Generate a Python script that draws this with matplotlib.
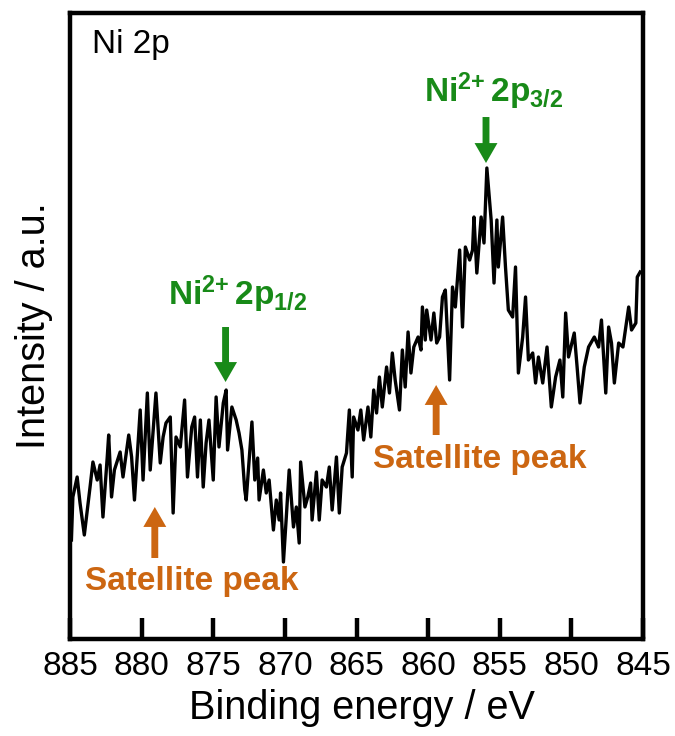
import numpy as np
import matplotlib
matplotlib.use('Agg')
import matplotlib.pyplot as plt

plt.rcParams['font.family'] = ['Liberation Sans', 'DejaVu Sans']
plt.rcParams['mathtext.fontset'] = 'custom'
plt.rcParams['mathtext.rm'] = 'Liberation Sans'
plt.rcParams['mathtext.bf'] = 'Liberation Sans:bold'

# Ni 2p XPS spectrum (binding energy in eV, intensity in a.u.)
binding_energy = [
    884.9, 884.8, 884.5, 884.3, 884.0, 883.6, 883.4, 883.1, 882.9, 882.7,
    882.4, 882.3, 882.1, 881.9, 881.5, 881.3, 880.9, 880.7, 880.5, 880.1,
    879.9, 879.6, 879.4, 879.0, 878.7, 878.5, 878.3, 878.0, 877.8, 877.6,
    877.3, 877.0, 876.8, 876.5, 876.3, 876.1, 875.9, 875.7, 875.5, 875.3,
    875.0, 874.8, 874.6, 874.3, 874.1, 874.0, 873.7, 873.4, 873.2, 873.0,
    872.8, 872.7, 872.3, 872.1, 871.9, 871.8, 871.5, 871.3, 871.1, 870.8,
    870.6, 870.4, 870.3, 870.1, 869.9, 869.7, 869.4, 869.2, 869.0, 868.9,
    868.6, 868.4, 868.2, 868.1, 867.8, 867.6, 867.4, 867.1, 866.9, 866.7,
    866.4, 866.2, 866.0, 865.7, 865.5, 865.3, 865.2, 864.9, 864.7, 864.5,
    864.2, 864.0, 863.8, 863.6, 863.4, 863.2, 862.9, 862.7, 862.5, 862.3,
    862.0, 861.8, 861.6, 861.4, 861.2, 861.0, 860.7, 860.5, 860.4, 860.2,
    860.1, 859.8, 859.6, 859.4, 859.2, 859.0, 858.8, 858.5, 858.3, 858.1,
    857.8, 857.6, 857.4, 857.1, 856.9, 856.8, 856.6, 856.3, 856.1, 855.9,
    855.6, 855.4, 855.2, 855.1, 854.8, 854.6, 854.4, 854.1, 853.9, 853.7,
    853.4, 853.2, 853.0, 852.7, 852.5, 852.3, 852.0, 851.7, 851.4, 851.1,
    850.8, 850.6, 850.4, 850.2, 849.8, 849.6, 849.4, 849.1, 848.8, 848.4,
    848.1, 847.9, 847.6, 847.4, 847.2, 847.0, 846.7, 846.4, 846.0, 845.8,
    845.5, 845.4, 845.2,
]
intensity = [
    99, 142, 162, 136, 104, 152, 177, 159, 174, 122,
    182, 204, 142, 169, 187, 162, 204, 182, 139, 229,
    159, 246, 169, 246, 176, 202, 216, 222, 126, 202,
    192, 239, 162, 212, 222, 162, 219, 152, 196, 219,
    159, 242, 192, 236, 249, 189, 232, 219, 206, 189,
    149, 139, 217, 159, 181, 139, 169, 146, 159, 109,
    139, 119, 146, 77, 122, 169, 112, 132, 96, 177,
    132, 142, 156, 119, 167, 119, 159, 152, 172, 129,
    182, 126, 172, 186, 229, 162, 222, 209, 229, 199,
    232, 202, 249, 226, 262, 232, 272, 246, 286, 259,
    229, 289, 252, 307, 266, 292, 302, 289, 332, 299,
    329, 299, 326, 296, 302, 342, 349, 259, 352, 332,
    389, 312, 392, 379, 389, 422, 366, 422, 396, 471,
    419, 356, 419, 372, 422, 372, 329, 322, 372, 266,
    302, 342, 279, 286, 256, 282, 256, 292, 232, 262,
    279, 242, 326, 282, 306, 272, 236, 272, 292, 302,
    292, 319, 246, 312, 296, 256, 296, 292, 332, 309,
    316, 362, 367,
]

fig = plt.figure(figsize=(6.75, 7.36), dpi=100)
ax = fig.add_axes([0.1037, 0.1318, 0.8489, 0.8505])

ax.plot(binding_energy, intensity, color='black', lw=2.4)

ax.set_xlim(885, 845)
ax.set_ylim(0, 626)
ax.set_xticks(np.arange(885, 844, -5))
ax.set_yticks([])
ax.tick_params(axis='x', direction='in', length=15, width=3.2,
               labelsize=24, pad=9)
for sp in ax.spines.values():
    sp.set_linewidth(3.2)

ax.set_xlabel('Binding energy / eV', fontsize=28.5)
ax.set_ylabel('Intensity / a.u.', fontsize=28.5)
ax.xaxis.set_label_coords(0.51, -0.08)
ax.yaxis.set_label_coords(-0.030, 0.5)

ax.text(0.038, 0.936, 'Ni 2p', transform=ax.transAxes, fontsize=24,
        ha='left', va='baseline')

green = '#188A18'
orange = '#CC6611'

def block_arrow(x, y_tail, y_tip, color):
    ax.annotate('', xy=(x, y_tip), xytext=(x, y_tail),
                arrowprops=dict(arrowstyle='simple,head_length=0.87,head_width=1.0,tail_width=0.3',
                                mutation_scale=16.5, color=color, lw=0,
                                shrinkA=0, shrinkB=0))

# Ni2+ main lines (arrow pointing down onto the peak)
block_arrow(855.96, 522, 476, green)
ax.text(855.4, 537, r'$\mathbf{Ni^{2{+}}\,2p_{3/2}}$', color=green, fontsize=24,
        ha='center', va='baseline')
block_arrow(874.14, 312, 257, green)
ax.text(873.3, 334, r'$\mathbf{Ni^{2{+}}\,2p_{1/2}}$', color=green, fontsize=24,
        ha='center', va='baseline')

# shake-up satellites (arrow pointing up from below)
block_arrow(879.08, 81, 132, orange)
ax.text(876.5, 49, 'Satellite peak', color=orange, fontsize=24,
        fontweight='bold', ha='center', va='baseline')
block_arrow(859.44, 204, 254, orange)
ax.text(856.4, 171, 'Satellite peak', color=orange, fontsize=24,
        fontweight='bold', ha='center', va='baseline')

fig.savefig('out.png', dpi=100)
